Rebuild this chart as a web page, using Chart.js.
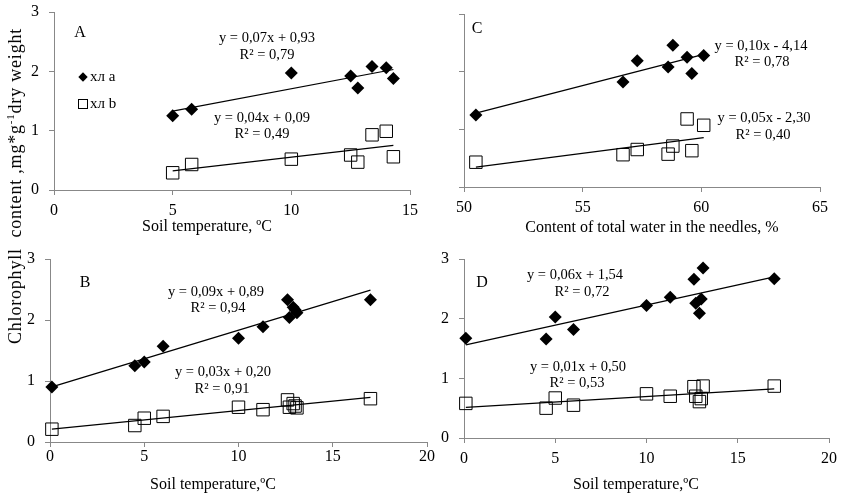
<!DOCTYPE html>
<html>
<head>
<meta charset="utf-8">
<script src="https://cdn.jsdelivr.net/npm/chart.js@4.4.1/dist/chart.umd.min.js"></script>
<style>
  html, body { margin: 0; padding: 0; background: #fff; }
  #wrap { position: relative; width: 843px; height: 495px; overflow: hidden; }
  #wrap canvas { position: absolute; left: 0; top: 0; }
  #ylab {
    position: absolute; left: 15px; top: 186px;
    transform: translate(-50%, -50%) rotate(-90deg);
    white-space: nowrap; font: 18px "Liberation Serif", serif; letter-spacing: 0.8px; color: #000;
  }
  #ylab sup { font-size: 11px; }
</style>
</head>
<body>
<div id="wrap">
  <canvas id="chA" width="843" height="495"></canvas>
  <canvas id="chC" width="843" height="495"></canvas>
  <canvas id="chB" width="843" height="495"></canvas>
  <canvas id="chD" width="843" height="495"></canvas>
  <div id="ylab">Chlorophyll&nbsp; content ,mg*g<sup>-1</sup>dry weight</div>
</div>
<script>
// panel A: soil temperature, C
var soilTempA = [5.0, 5.8, 10.0, 12.5, 12.8, 13.4, 14.0, 14.3];
var chlA_a = [1.25, 1.36, 1.97, 1.92, 1.72, 2.08, 2.06, 1.88];
var chlA_b = [0.29, 0.43, 0.52, 0.59, 0.47, 0.93, 0.99, 0.56];

// panel C: content of total water in the needles, %
var waterC = [50.5, 56.7, 57.3, 58.6, 58.8, 59.4, 59.6, 60.1];
var chlC_a = [1.25, 1.82, 2.19, 2.08, 2.46, 2.25, 1.97, 2.28];
var chlC_b = [0.43, 0.56, 0.65, 0.57, 0.71, 1.18, 0.63, 1.07];

// panels B and D: soil temperature, C
var soilTemp = [0.1, 4.5, 5.0, 6.0, 10.0, 11.3, 12.6, 12.7, 12.9, 13.0, 13.1, 17.0];
var chlB_a = [0.90, 1.25, 1.31, 1.57, 1.70, 1.89, 2.33, 2.04, 2.21, 2.17, 2.12, 2.33];
var chlB_b = [0.21, 0.27, 0.39, 0.42, 0.57, 0.53, 0.69, 0.57, 0.63, 0.59, 0.56, 0.71];
var chlD_a = [1.67, 1.66, 2.03, 1.82, 2.22, 2.36, 2.66, 2.26, 2.09, 2.33, 2.85, 2.67];
var chlD_b = [0.58, 0.50, 0.67, 0.55, 0.74, 0.70, 0.86, 0.70, 0.61, 0.66, 0.87, 0.87];

var yTicks = [0, 1, 2, 3];
var seriesNames = ['хл a', 'хл b'];

var FONT = '"Liberation Serif", serif';
var AXW = 40, AXH = 40;   // fixed axis box sizes
var GRAY = '#888888';

function pts(xs, ys) {
  return xs.map(function (x, i) { return {x: x, y: ys[i]}; });
}

// least squares trend line over the data range
function trend(xs, ys) {
  var n = xs.length, sx = 0, sy = 0, sxx = 0, sxy = 0;
  for (var i = 0; i < n; i++) {
    sx += xs[i]; sy += ys[i]; sxx += xs[i] * xs[i]; sxy += xs[i] * ys[i];
  }
  var b = (n * sxy - sx * sy) / (n * sxx - sx * sx);
  var a = (sy - b * sx) / n;
  var lo = Math.min.apply(null, xs), hi = Math.max.apply(null, xs);
  return [{x: lo, y: a + b * lo}, {x: hi, y: a + b * hi}];
}

// texts (equations, panel letters, axis titles) and the small legend
function notes(texts, legend) {
  return {
    id: 'notes',
    afterDatasetsDraw: function (chart) {
      var ctx = chart.ctx;
      ctx.save();
      ctx.fillStyle = '#000';
      ctx.textAlign = 'center';
      ctx.textBaseline = 'middle';
      texts.forEach(function (t) {
        ctx.font = (t.s || 14.5) + 'px ' + FONT;
        ctx.fillText(t.t, t.x, t.y);
      });
      if (legend) {
        var L = legend;
        ctx.beginPath();
        ctx.moveTo(L.x, L.y1 - 4.7); ctx.lineTo(L.x + 4.7, L.y1);
        ctx.lineTo(L.x, L.y1 + 4.7); ctx.lineTo(L.x - 4.7, L.y1);
        ctx.closePath(); ctx.fill();
        ctx.strokeStyle = '#000'; ctx.lineWidth = 1;
        ctx.strokeRect(L.x - 4.5, L.y2 - 4.5, 9, 9);
        ctx.textAlign = 'left';
        ctx.font = '15px ' + FONT;
        ctx.fillText(seriesNames[0], L.x + 7, L.y1);
        ctx.fillText(seriesNames[1], L.x + 7, L.y2);
      }
      ctx.restore();
    }
  };
}

function panel(id, area, xr, showY, xs, ya, yb, xPad, texts, legend) {
  new Chart(document.getElementById(id), {
    type: 'scatter',
    data: {
      datasets: [
        {data: pts(xs, ya), pointStyle: 'rectRot', pointRadius: 6.5, backgroundColor: '#000',
         borderColor: '#000', borderWidth: 0, clip: false},
        {data: pts(xs, yb), pointStyle: 'rect', pointRadius: 8.8, backgroundColor: 'rgba(0,0,0,0)',
         borderColor: '#000', borderWidth: 1, clip: false},
        {type: 'line', data: trend(xs, ya), borderColor: '#000', borderWidth: 1.2, pointRadius: 0, fill: false, clip: false},
        {type: 'line', data: trend(xs, yb), borderColor: '#000', borderWidth: 1.2, pointRadius: 0, fill: false, clip: false}
      ]
    },
    options: {
      responsive: false,
      animation: false,
      events: [],
      layout: {padding: {left: area.l - AXW, right: 843 - area.r, top: area.t, bottom: 495 - area.b - AXH}},
      plugins: {legend: {display: false}, tooltip: {enabled: false}},
      scales: {
        x: {
          type: 'linear', min: xr[0], max: xr[1],
          ticks: {stepSize: 5, color: '#000', font: {family: FONT, size: 16}, padding: xPad, maxRotation: 0},
          grid: {drawOnChartArea: false, tickLength: 5, color: GRAY},
          border: {color: GRAY, width: 1},
          afterFit: function (s) { s.height = AXH; s.paddingLeft = 0; s.paddingRight = 0; }
        },
        y: {
          type: 'linear', min: 0, max: 3,
          afterBuildTicks: function (s) { s.ticks = yTicks.map(function (v) { return {value: v}; }); },
          ticks: {color: '#000', font: {family: FONT, size: 16}, padding: 10,
                  callback: function (v) { return showY ? v : ''; }},
          grid: {drawOnChartArea: false, tickLength: 5, color: GRAY},
          border: {color: GRAY, width: 1},
          afterFit: function (s) { s.width = AXW; s.paddingTop = 0; s.paddingBottom = 0; }
        }
      }
    },
    plugins: [notes(texts, legend)]
  });
}

panel('chA', {l: 54, r: 410, t: 12, b: 190}, [0, 15], true, soilTempA, chlA_a, chlA_b, 6, [
  {t: 'A', x: 80, y: 33, s: 16},
  {t: 'y = 0,07x + 0,93', x: 267, y: 38},
  {t: 'R² = 0,79', x: 267, y: 55},
  {t: 'y = 0,04x + 0,09', x: 262, y: 118},
  {t: 'R² = 0,49', x: 262, y: 134},
  {t: 'Soil temperature, ºC', x: 207, y: 227, s: 16}
], {x: 83, y1: 77, y2: 104});

panel('chC', {l: 464, r: 820, t: 14, b: 187}, [50, 65], false, waterC, chlC_a, chlC_b, 6, [
  {t: 'C', x: 477, y: 29, s: 16},
  {t: 'y = 0,10x - 4,14', x: 761, y: 46},
  {t: 'R² = 0,78', x: 762, y: 62},
  {t: 'y = 0,05x - 2,30', x: 764, y: 118},
  {t: 'R² = 0,40', x: 763, y: 135},
  {t: 'Content of total water in the needles, %', x: 652, y: 228, s: 16}
]);

panel('chB', {l: 50, r: 427, t: 259, b: 442}, [0, 20], true, soilTemp, chlB_a, chlB_b, 0, [
  {t: 'B', x: 85, y: 283, s: 16},
  {t: 'y = 0,09x + 0,89', x: 216, y: 292},
  {t: 'R² = 0,94', x: 218, y: 308},
  {t: 'y = 0,03x + 0,20', x: 223, y: 372},
  {t: 'R² = 0,91', x: 222, y: 389},
  {t: 'Soil temperature,ºC', x: 213, y: 485, s: 16}
]);

panel('chD', {l: 464, r: 829, t: 259, b: 438}, [0, 20], true, soilTemp, chlD_a, chlD_b, 6, [
  {t: 'D', x: 482, y: 283, s: 16},
  {t: 'y = 0,06x + 1,54', x: 575, y: 275},
  {t: 'R² = 0,72', x: 582, y: 292},
  {t: 'y = 0,01x + 0,50', x: 578, y: 367},
  {t: 'R² = 0,53', x: 577, y: 383},
  {t: 'Soil temperature,ºC', x: 636, y: 485, s: 16}
]);
</script>
</body>
</html>
